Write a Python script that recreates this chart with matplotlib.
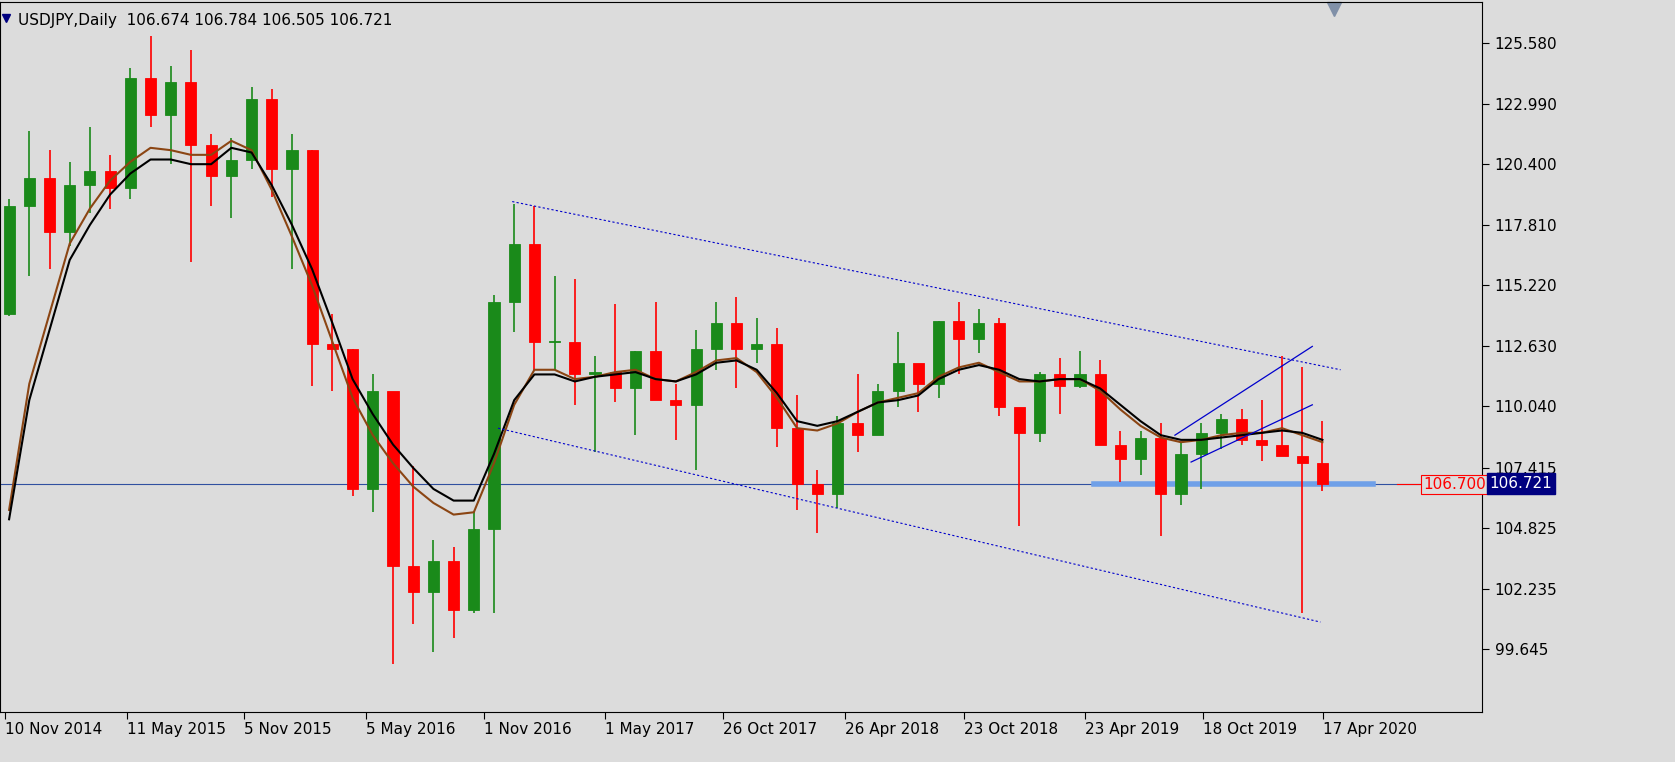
import matplotlib.pyplot as plt
import numpy as np

# monthly OHLC, Nov 2014 .. Apr 2020
opens = [114.0, 118.6, 119.8, 117.5, 119.5, 120.1, 119.4, 124.1, 122.5, 123.9, 121.2, 119.9,
         120.6, 123.2, 120.2, 121.0, 112.7, 112.5, 106.5, 110.7, 103.2, 102.1, 103.4, 101.3,
         104.8, 114.5, 117.0, 112.8, 112.8, 111.4, 111.5, 110.8, 112.4, 110.3, 110.1, 112.5,
         113.6, 112.5, 112.7, 109.1, 106.7, 106.3, 109.3, 108.8, 110.7, 111.9, 111.0, 113.7,
         112.9, 113.6, 110.0, 108.9, 111.4, 110.9, 111.4, 108.4, 107.8, 108.7, 106.3, 108.0,
         108.9, 109.5, 108.6, 108.4, 107.9, 107.6]
highs = [118.9, 121.8, 121.0, 120.5, 122.0, 120.8, 124.5, 125.9, 124.6, 125.3, 121.7, 121.5,
         123.7, 123.6, 121.7, 121.0, 114.0, 112.5, 111.4, 110.4, 107.5, 104.3, 104.0, 105.5,
         114.8, 118.7, 118.6, 115.6, 115.5, 112.2, 114.4, 112.4, 114.5, 111.0, 113.3, 114.5,
         114.7, 113.8, 113.4, 110.5, 107.3, 109.6, 111.4, 111.0, 113.2, 111.8, 113.7, 114.5,
         114.2, 113.8, 109.9, 111.5, 112.1, 112.4, 112.0, 109.0, 109.0, 109.3, 108.5, 109.3,
         109.7, 109.9, 110.3, 112.2, 111.7, 109.4]
lows = [113.9, 115.6, 115.9, 116.9, 118.3, 118.5, 118.9, 122.0, 120.4, 116.2, 118.6, 118.1,
        120.2, 119.0, 115.9, 110.9, 110.7, 106.2, 105.5, 99.0, 100.7, 99.5, 100.1, 101.2,
        101.2, 113.2, 111.6, 111.6, 110.1, 108.1, 110.2, 108.8, 110.6, 108.6, 107.3, 111.6,
        110.8, 111.9, 108.3, 105.6, 104.6, 105.7, 108.1, 108.8, 110.0, 109.8, 110.4, 111.4,
        112.3, 109.6, 104.9, 108.5, 109.7, 110.8, 108.6, 106.8, 107.1, 104.5, 105.8, 106.5,
        108.2, 108.4, 107.7, 107.9, 101.2, 106.4]
closes = [118.6, 119.8, 117.5, 119.5, 120.1, 119.4, 124.1, 122.5, 123.9, 121.2, 119.9, 120.6,
          123.2, 120.2, 121.0, 112.7, 112.5, 106.5, 110.7, 103.2, 102.1, 103.4, 101.3, 104.8,
          114.5, 117.0, 112.8, 112.8, 111.4, 111.5, 110.8, 112.4, 110.3, 110.1, 112.5, 113.6,
          112.5, 112.7, 109.1, 106.7, 106.3, 109.3, 108.8, 110.7, 111.9, 111.0, 113.7, 112.9,
          113.6, 110.0, 108.9, 111.4, 110.9, 111.4, 108.4, 107.8, 108.7, 106.3, 108.0, 108.9,
          109.5, 108.6, 108.4, 107.9, 107.6, 106.7]

# moving averages, one value per month
ma_black = [105.2, 110.3, 113.3, 116.3, 117.8, 119.1, 120.0, 120.6, 120.6, 120.4, 120.4, 121.1,
            120.9, 119.5, 117.8, 115.9, 113.6, 111.2, 109.7, 108.4, 107.4, 106.5, 106.0, 106.0,
            108.0, 110.3, 111.4, 111.4, 111.1, 111.3, 111.4, 111.5, 111.2, 111.1, 111.4, 111.9,
            112.0, 111.6, 110.6, 109.4, 109.2, 109.4, 109.8, 110.2, 110.3, 110.5, 111.2, 111.6,
            111.8, 111.6, 111.2, 111.1, 111.2, 111.2, 110.8, 110.1, 109.4, 108.8, 108.6, 108.6,
            108.7, 108.8, 108.9, 109.0, 108.9, 108.6]
ma_brown = [105.6, 111.0, 114.0, 117.0, 118.5, 119.7, 120.5, 121.1, 121.0, 120.8, 120.8, 121.4,
            121.0, 119.3, 117.3, 115.2, 112.8, 110.4, 108.8, 107.6, 106.6, 105.9, 105.4, 105.5,
            107.6, 110.1, 111.6, 111.6, 111.2, 111.3, 111.5, 111.6, 111.2, 111.1, 111.5, 112.0,
            112.1, 111.5, 110.4, 109.1, 109.0, 109.3, 109.8, 110.2, 110.4, 110.6, 111.3, 111.7,
            111.9, 111.5, 111.1, 111.1, 111.2, 111.2, 110.7, 109.9, 109.2, 108.7, 108.5, 108.6,
            108.8, 108.9, 108.9, 109.1, 108.8, 108.5]

# trendlines (month position, price)
upper_chan = [(25.4, 118.8), (66.4, 111.6)]
lower_chan = [(24.7, 109.1), (65.4, 100.8)]
rise_upper = [(58.2, 108.8), (65.0, 112.6)]
rise_lower = [(59.0, 107.65), (65.0, 110.1)]
support = [(54.2, 106.7), (68.0, 106.7)]
last_price = 106.721
level_price = 106.700

xtick_pos = [0.3, 6.33, 12.15, 18.15, 24.0, 30.0, 35.85, 41.85, 47.75, 53.75, 59.6, 65.55]
xtick_labels = ['10 Nov 2014', '11 May 2015', '5 Nov 2015', '5 May 2016', '1 Nov 2016', '1 May 2017',
                '26 Oct 2017', '26 Apr 2018', '23 Oct 2018', '23 Apr 2019', '18 Oct 2019', '17 Apr 2020']
yticks = [99.645, 102.235, 104.825, 107.415, 110.040, 112.630, 115.220, 117.810, 120.400, 122.990, 125.580]

bg = '#dcdcdc'
navy = '#000080'
fig = plt.figure(figsize=(16.75, 7.62), dpi=100, facecolor=bg)
ax = fig.add_axes([0.0, 0.0656, 0.8848, 0.9314], facecolor=bg)

x = np.arange(len(opens)) + 0.5
for xi, o, h, l, c in zip(x, opens, highs, lows, closes):
    col = '#1a8a1a' if c >= o else '#ff0000'
    ax.vlines(xi, l, h, color=col, lw=1.2, zorder=3)
    ax.bar(xi, abs(c - o) or 0.05, bottom=min(o, c), width=0.55, color=col, edgecolor=col, lw=0.6, zorder=3)

ax.plot(x, ma_brown, color='#8b4513', lw=1.5, zorder=4)
ax.plot(x, ma_black, color='black', lw=1.5, zorder=4)

for line in (upper_chan, lower_chan):
    (x0, y0), (x1, y1) = line
    ax.plot([x0, x1], [y0, y1], color='#0000cc', lw=0.8, ls=(0, (2, 2)), zorder=5)
for line in (rise_upper, rise_lower):
    (x0, y0), (x1, y1) = line
    ax.plot([x0, x1], [y0, y1], color='#0000cc', lw=0.9, zorder=5)
ax.plot([support[0][0], support[1][0]], [support[0][1], support[1][1]], color='#6fa0e8', lw=4, zorder=2)
ax.axhline(last_price, color='#3050a0', lw=0.8, zorder=1)
ax.plot([69.2, 70.4], [level_price, level_price], color='red', lw=0.8)
ax.text(70.5, level_price, '106.700', color='red', fontsize=11, va='center', ha='left',
        bbox=dict(facecolor=bg, edgecolor='red', pad=1.5, lw=0.8))

ax.set_xlim(0.05, 73.4)
ax.set_ylim(96.95, 127.33)
ax.yaxis.tick_right()
ax.set_yticks(yticks)
ax.set_yticklabels([f'{v:.3f}' for v in yticks], color='black', fontsize=11)
ax.set_xticks(xtick_pos)
ax.set_xticklabels(xtick_labels, color='black', fontsize=11, ha='left')
ax.tick_params(axis='x', length=5, pad=2, color='black')
ax.tick_params(axis='y', length=5, pad=4, color='black')
for s in ax.spines.values():
    s.set_color('black')
    s.set_linewidth(0.8)

ax.text(1.005, (last_price - 96.95) / (127.33 - 96.95), '106.721', transform=ax.transAxes,
        color='white', fontsize=11, va='center', ha='left',
        bbox=dict(facecolor=navy, edgecolor=navy, pad=2))
ax.text(0.012, 0.985, 'USDJPY,Daily  106.674 106.784 106.505 106.721', transform=ax.transAxes,
        color='black', fontsize=11, va='top', ha='left')
ax.plot([0.004], [0.978], marker='v', color=navy, ms=6, transform=ax.transAxes)
ax.plot([0.9], [0.99], marker='v', color='#8090a8', ms=10, transform=ax.transAxes, clip_on=False)

fig.savefig('out.png', dpi=100, facecolor=bg)
